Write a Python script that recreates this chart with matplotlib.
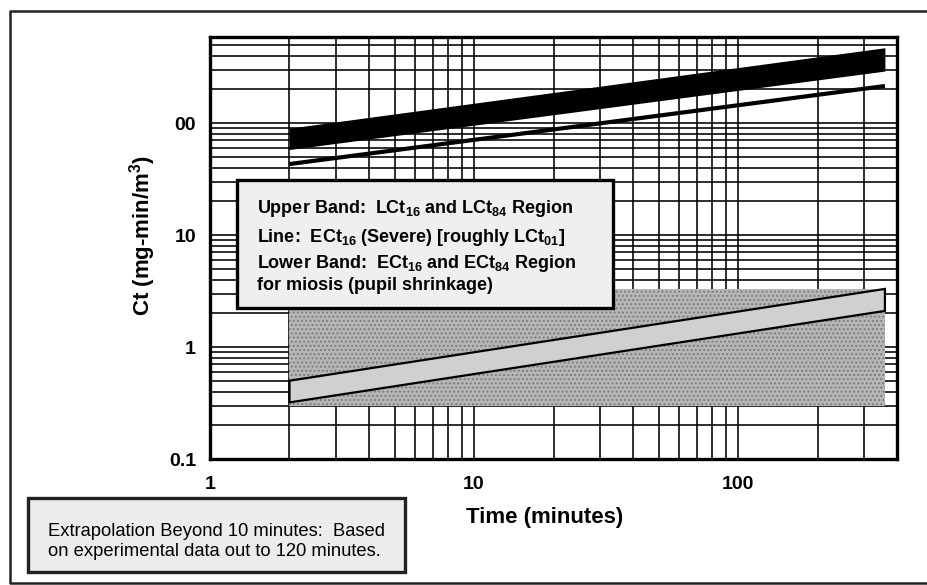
import numpy as np
import matplotlib
matplotlib.use("Agg")
import matplotlib.pyplot as plt
from matplotlib.patches import Rectangle, Polygon
from matplotlib.lines import Line2D
from matplotlib.ticker import LogLocator, NullFormatter

plt.rcParams["font.family"] = ["Liberation Sans", "DejaVu Sans"]
plt.rcParams["mathtext.fontset"] = "custom"
plt.rcParams["mathtext.rm"] = "Liberation Sans"
plt.rcParams["mathtext.bf"] = "Liberation Sans:bold"
plt.rcParams["hatch.linewidth"] = 0.9

# data (time in minutes, Ct in mg-min/m3)
time_ends = [2, 360]
upper_band_low = [58, 291]     # LCt84 edge
upper_band_high = [90, 470]    # LCt16 edge
ect16_severe = [43, 214]
lower_band_low = [0.32, 2.1]
lower_band_high = [0.50, 3.3]
shade_time = [2, 360]
shade_ct = [0.3, 3.3]

x_ticks = [1, 10, 100]
x_tick_labels = ["1", "10", "100"]
y_ticks = [0.1, 1, 10, 100]
y_tick_labels = ["0.1", "1", "10", "00"]

W, H = 927, 585
fig = plt.figure(figsize=(W / 100, H / 100), dpi=100)


def fx(px):
    return px / W


def fy(py):
    return 1 - py / H


ax = fig.add_axes([fx(210), fy(459), fx(897 - 210), (459 - 37) / H])
ax.set_xscale("log")
ax.set_yscale("log")
ax.set_xlim(1, 400)
ax.set_ylim(0.1, 586)

ax.xaxis.set_minor_locator(LogLocator(base=10, subs=range(2, 10)))
ax.yaxis.set_minor_locator(LogLocator(base=10, subs=range(2, 10)))
ax.xaxis.set_minor_formatter(NullFormatter())
ax.yaxis.set_minor_formatter(NullFormatter())
ax.set_xticks(x_ticks)
ax.set_xticklabels(x_tick_labels)
ax.set_yticks(y_ticks)
ax.set_yticklabels(y_tick_labels)
ax.tick_params(which="both", length=0)
ax.tick_params(axis="x", pad=12, labelsize=14)
ax.tick_params(axis="y", pad=10, labelsize=14)
for lab in ax.get_xticklabels() + ax.get_yticklabels():
    lab.set_fontweight("bold")

ax.grid(which="both", color="black", lw=1.15)
ax.set_axisbelow(True)
for s in ax.spines.values():
    s.set_linewidth(2.4)
    s.set_color("black")

# stippled region behind the lower band
ax.fill_between(shade_time, shade_ct[0], shade_ct[1], facecolor="#b6b6b6", edgecolor="#7a7a7a",
                hatch="....", lw=0, zorder=2)

# lower band (miosis)
lower_poly = list(zip(time_ends, lower_band_low)) + list(zip(time_ends[::-1], lower_band_high[::-1]))
ax.add_patch(Polygon(lower_poly, closed=True, fc="#d0d0d0", ec="black", lw=1.6, zorder=3))

# upper band (lethal)
ax.fill_between(time_ends, upper_band_low, upper_band_high, color="black", lw=0, zorder=3)

# ECt16 severe line
ax.plot(time_ends, ect16_severe, color="black", lw=3, solid_capstyle="butt", zorder=3)

# outer frame: left, top and bottom edges (right edge falls off the page)
fig.add_artist(Line2D([fx(W + 5), fx(10), fx(10), fx(W + 5)], [fy(11), fy(11), fy(583), fy(583)],
                      transform=fig.transFigure, color="#222222", lw=1.8))

# legend box
fig.add_artist(Rectangle((fx(237), fy(308)), fx(613 - 237), (308 - 180) / H, transform=fig.transFigure,
                         fc="#efefef", ec="black", lw=2.4, zorder=5))
legend_lines = [
    (208, r"Upper Band:  LCt$_{\mathbf{16}}$ and LCt$_{\mathbf{84}}$ Region"),
    (237, r"Line:  ECt$_{\mathbf{16}}$ (Severe) [roughly LCt$_{\mathbf{01}}$]"),
    (264, r"Lower Band:  ECt$_{\mathbf{16}}$ and ECt$_{\mathbf{84}}$ Region"),
    (286, "for miosis (pupil shrinkage)"),
]
for py, txt in legend_lines:
    fig.text(fx(257), fy(py), txt, fontsize=13, fontweight="bold", va="center", ha="left", zorder=6)

# note box at the bottom left
fig.add_artist(Rectangle((fx(28), fy(572)), fx(405 - 28), (572 - 498) / H, transform=fig.transFigure,
                         fc="#ececec", ec="#222222", lw=2.4, zorder=5))
fig.text(fx(48), fy(532), "Extrapolation Beyond 10 minutes:  Based", fontsize=13.2, va="center", zorder=6)
fig.text(fx(48), fy(552), "on experimental data out to 120 minutes.", fontsize=13.2, va="center", zorder=6)

# axis titles
fig.text(fx(545), fy(518), "Time (minutes)", fontsize=16, fontweight="bold", ha="center", va="center")
fig.text(fx(143), fy(235), r"Ct (mg-min/m$^{\mathbf{3}}$)", fontsize=16, fontweight="bold",
         rotation=90, ha="center", va="center")

fig.savefig("out.png", dpi=100)
